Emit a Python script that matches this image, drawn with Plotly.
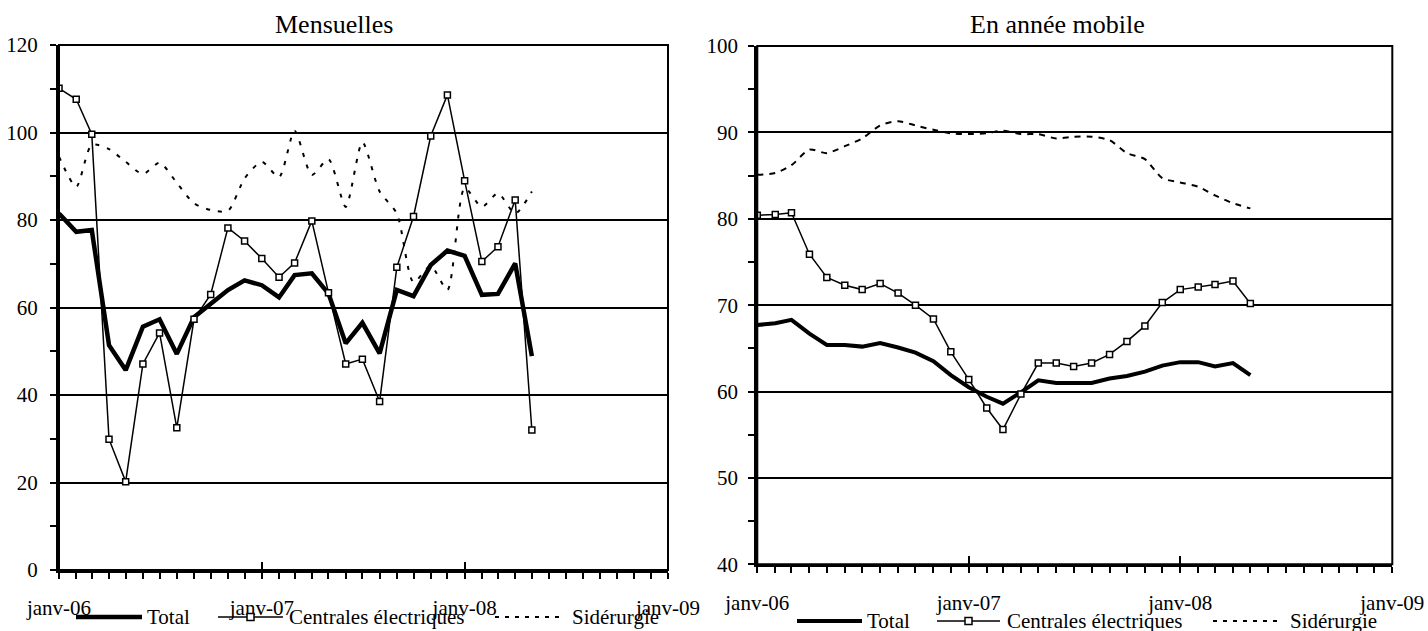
import pandas as pd
import plotly.graph_objects as go

W, H = 1428, 631
FONT = "Liberation Serif"

# Monthly observation dates (janv-06 .. mai-08)
months = [
    "2006-01-01", "2006-02-01", "2006-03-01", "2006-04-01", "2006-05-01", "2006-06-01",
    "2006-07-01", "2006-08-01", "2006-09-01", "2006-10-01", "2006-11-01", "2006-12-01",
    "2007-01-01", "2007-02-01", "2007-03-01", "2007-04-01", "2007-05-01", "2007-06-01",
    "2007-07-01", "2007-08-01", "2007-09-01", "2007-10-01", "2007-11-01", "2007-12-01",
    "2008-01-01", "2008-02-01", "2008-03-01", "2008-04-01", "2008-05-01",
]

# Mensuelles
total_m = [81.5, 77.3, 77.7, 51.4, 45.7, 55.6, 57.3, 49.4, 57.8, 61.0, 64.0, 66.2,
           65.1, 62.3, 67.4, 67.8, 63.2, 51.8, 56.5, 49.5, 64.0, 62.6, 69.7, 73.0,
           71.8, 62.9, 63.1, 70.1, 48.9]
centrales_m = [110.1, 107.6, 99.6, 29.9, 20.2, 47.1, 54.2, 32.5, 57.3, 63.0, 78.2, 75.2,
               71.2, 66.9, 70.2, 79.8, 63.4, 47.1, 48.2, 38.5, 69.2, 80.8, 99.2, 108.6,
               89.0, 70.5, 73.9, 84.6, 32.0]
siderurgie_m = [94.5, 87.6, 97.2, 96.2, 93.3, 90.5, 93.1, 88.5, 83.8, 82.3, 82.1, 89.5,
                93.3, 89.8, 100.4, 90.3, 93.9, 83.0, 97.8, 86.5, 81.5, 65.8, 69.5, 64.0,
                87.3, 83.0, 86.1, 81.5, 86.5]

# En année mobile
total_a = [67.7, 67.9, 68.3, 66.7, 65.4, 65.4, 65.2, 65.6, 65.1, 64.5, 63.5, 61.9,
           60.5, 59.4, 58.6, 59.9, 61.3, 61.0, 61.0, 61.0, 61.5, 61.8, 62.3, 63.0,
           63.4, 63.4, 62.9, 63.3, 61.9]
centrales_a = [80.4, 80.5, 80.7, 75.9, 73.2, 72.3, 71.8, 72.5, 71.4, 70.0, 68.4, 64.6,
               61.4, 58.1, 55.6, 59.7, 63.3, 63.3, 62.9, 63.3, 64.3, 65.8, 67.6, 70.3,
               71.8, 72.1, 72.4, 72.8, 70.2]
siderurgie_a = [85.1, 85.3, 86.2, 88.0, 87.6, 88.4, 89.3, 90.8, 91.3, 90.8, 90.3, 89.9,
                89.8, 89.9, 90.2, 89.8, 89.8, 89.3, 89.5, 89.5, 89.1, 87.6, 86.9, 84.7,
                84.2, 83.7, 82.7, 81.8, 81.2]

year_ticks = ["2006-01-01", "2007-01-01", "2008-01-01", "2009-01-01"]
year_labels = ["janv-06", "janv-07", "janv-08", "janv-09"]
series_names = ["Total", "Centrales électriques", "Sidérurgie"]
panel_titles = ["Mensuelles", "En année mobile"]

x_range = [year_ticks[0], year_ticks[-1]]
month_ticks = [d.strftime("%Y-%m-%d") for d in pd.date_range(x_range[0], x_range[1], freq="MS")]
month_text = [year_labels[year_ticks.index(m)] if m in year_ticks else "" for m in month_ticks]


def px(x):
    return x / W


def py(y):
    return 1 - y / H


fig = go.Figure()

panels = [
    dict(xa="x", ya="y", total=total_m, cen=centrales_m, sid=siderurgie_m,
         tw=4.5, dash="4px,8px"),
    dict(xa="x2", ya="y2", total=total_a, cen=centrales_a, sid=siderurgie_a,
         tw=4.0, dash="6px,6px"),
]

for p in panels:
    fig.add_trace(go.Scatter(
        x=months, y=p["sid"], name=series_names[2], mode="lines",
        line=dict(color="black", width=2, dash=p["dash"], shape="spline", smoothing=0.7),
        xaxis=p["xa"], yaxis=p["ya"], showlegend=False))
    fig.add_trace(go.Scatter(
        x=months, y=p["total"], name=series_names[0], mode="lines",
        line=dict(color="black", width=p["tw"]),
        xaxis=p["xa"], yaxis=p["ya"], showlegend=False))
    fig.add_trace(go.Scatter(
        x=months, y=p["cen"], name=series_names[1], mode="lines+markers",
        line=dict(color="black", width=1.5),
        marker=dict(symbol="square", size=6, color="white",
                    line=dict(color="black", width=1.5)),
        xaxis=p["xa"], yaxis=p["ya"], showlegend=False))

# empty traces binding the overlay axes that carry the yearly cross ticks
fig.add_trace(go.Scatter(x=[], y=[], xaxis="x3", yaxis="y", showlegend=False, hoverinfo="skip"))
fig.add_trace(go.Scatter(x=[], y=[], xaxis="x4", yaxis="y2", showlegend=False, hoverinfo="skip"))

tick_font = dict(family=FONT, size=21, color="black")

xcommon = dict(
    type="date", range=x_range, tickmode="array", tickvals=month_ticks, ticktext=month_text,
    ticks="outside", ticklen=6, tickwidth=1.5, tickcolor="black",
    showline=True, linewidth=3, linecolor="black", showgrid=False, zeroline=False,
    tickfont=tick_font, ticklabelstandoff=11, fixedrange=True, automargin=False,
)
overlay_x = dict(
    type="date", range=x_range, tickmode="array", tickvals=year_ticks,
    ticks="inside", ticklen=8, tickwidth=2, tickcolor="black",
    showticklabels=False, showline=False, showgrid=False, zeroline=False, automargin=False,
)

fig.update_layout(
    template="none",
    width=W, height=H,
    margin=dict(l=0, r=0, t=0, b=0, autoexpand=False),
    paper_bgcolor="white", plot_bgcolor="white",
    font=dict(family=FONT, color="black"),
    showlegend=False,
    xaxis=dict(domain=[px(59), px(668)], anchor="y", **xcommon),
    xaxis2=dict(domain=[px(757.3), px(1392.3)], anchor="y2", **xcommon),
    xaxis3=dict(overlaying="x", anchor="y", **overlay_x),
    xaxis4=dict(overlaying="x2", anchor="y2", **overlay_x),
    yaxis=dict(
        domain=[py(570), py(45)], anchor="x", range=[0, 120],
        tickmode="array", tickvals=[0, 20, 40, 60, 80, 100, 120],
        ticks="outside", ticklen=6, tickwidth=1.5, tickcolor="black",
        minor=dict(dtick=10, ticks="outside", ticklen=6, tickwidth=1.5, tickcolor="black"),
        showline=True, linewidth=3, linecolor="black",
        showgrid=True, gridcolor="black", gridwidth=2, zeroline=False,
        tickfont=tick_font, ticklabelstandoff=8, fixedrange=True, automargin=False,
    ),
    yaxis2=dict(
        domain=[py(564.3), py(46)], anchor="x2", range=[40, 100],
        tickmode="array", tickvals=[40, 50, 60, 70, 80, 90, 100],
        ticks="outside", ticklen=6, tickwidth=1.5, tickcolor="black",
        minor=dict(dtick=5, ticks="outside", ticklen=6, tickwidth=1.5, tickcolor="black"),
        showline=True, linewidth=3, linecolor="black",
        showgrid=True, gridcolor="black", gridwidth=2, zeroline=False,
        tickfont=tick_font, ticklabelstandoff=6, fixedrange=True, automargin=False,
    ),
)

# plot-area frames
for xr, yr in [("x domain", "y domain"), ("x2 domain", "y2 domain")]:
    fig.add_shape(type="rect", xref=xr, yref=yr, x0=0, x1=1, y0=0, y1=1,
                  line=dict(color="black", width=2), fillcolor="rgba(0,0,0,0)", layer="above")

# panel titles
for text, cx in zip(panel_titles, [334, 1057]):
    fig.add_annotation(text=text, xref="paper", yref="paper", x=px(cx), y=py(24),
                       xanchor="center", yanchor="middle", showarrow=False,
                       font=dict(family=FONT, size=26, color="black"))

# legends drawn under each panel
legend_rows = [
    dict(y=617, items=[(76, 142, 145), (218, 283, 287), (495, 560, 570)], tw=4.5, dash="4px,6px"),
    dict(y=621, items=[(797, 862, 865), (937, 1000, 1005), (1213, 1280, 1288)], tw=4.0, dash="4px,6px"),
]
for row in legend_rows:
    y = py(row["y"])
    styles = [dict(width=row["tw"], dash="solid"),
              dict(width=1.5, dash="solid"),
              dict(width=2, dash=row["dash"])]
    for (x0, x1, tx), name, st in zip(row["items"], series_names, styles):
        fig.add_shape(type="line", xref="paper", yref="paper", x0=px(x0), x1=px(x1), y0=y, y1=y,
                      line=dict(color="black", **st))
        if name == series_names[1]:
            cx = (x0 + x1) / 2
            fig.add_shape(type="rect", xref="paper", yref="paper",
                          x0=px(cx - 3.5), x1=px(cx + 3.5), y0=py(row["y"] + 3.5), y1=py(row["y"] - 3.5),
                          line=dict(color="black", width=1.5), fillcolor="white")
        fig.add_annotation(text=name, xref="paper", yref="paper", x=px(tx), y=y,
                           xanchor="left", yanchor="middle", showarrow=False,
                           font=dict(family=FONT, size=21, color="black"))

fig.write_html("out.html")
